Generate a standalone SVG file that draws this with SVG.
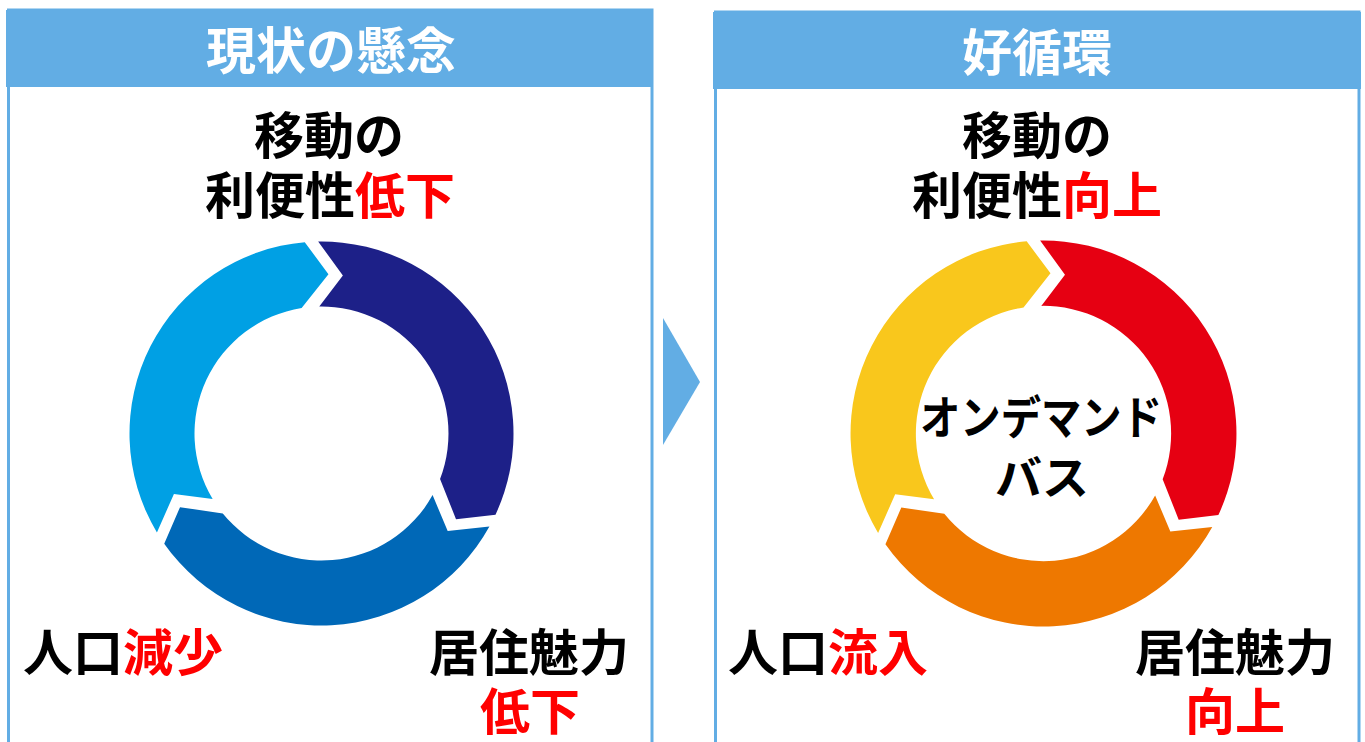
<svg xmlns="http://www.w3.org/2000/svg" width="1365" height="742" viewBox="0 0 1365 742">
<style>
.panel{fill:#ffffff;stroke:#62ADE4;stroke-width:3}
.hdr{fill:#62ADE4}
.t{font-family:"Noto Sans CJK JP","Noto Sans",sans-serif;font-weight:700;font-size:50px;text-anchor:middle;fill:#000}
.w{fill:#ffffff}
.r{fill:#FF0000}
</style>
<defs>
<path id="seg" d="M -3.35 -191.97 A 192 192 0 0 1 174.01 81.14 L 134.52 85.7 L 118.56 45.51 A 127 127 0 0 0 -2.22 -126.98 L 21.37 -158.06 Z"/>
</defs>
<rect width="1365" height="742" fill="#ffffff"/>

<g id="panel-left">
<rect class="panel" x="8.5" y="10" width="643.5" height="760"/>
<rect class="hdr" x="6" y="10" width="647" height="77"/>
<text class="t w" x="331" y="69">現状の懸念</text>
</g>

<g id="panel-right">
<rect class="panel" x="715.5" y="12" width="643.5" height="760"/>
<rect class="hdr" x="713" y="12" width="648" height="77"/>
<text class="t w" x="1037" y="71">好循環</text>
</g>

<g id="connectors">
<polygon points="663,318 700,382 663,445" fill="#62ADE4"/>
</g>

<g id="cycle-left">
<use href="#seg" transform="translate(321.5,433.5)" fill="#1D2088"/>
<use href="#seg" transform="translate(321.5,433.5) rotate(120)" fill="#0068B7"/>
<use href="#seg" transform="translate(321.5,433.5) rotate(240)" fill="#00A0E4"/>
</g>

<g id="cycle-right">
<use href="#seg" transform="translate(1043.5,433.5) scale(1.005)" fill="#E60012"/>
<use href="#seg" transform="translate(1043.5,433.5) scale(1.005) rotate(120)" fill="#EE7800"/>
<use href="#seg" transform="translate(1043.5,433.5) scale(1.005) rotate(240)" fill="#F9C71C"/>
</g>

<g id="node-left-top">
<text class="t" x="329" y="154">移動の</text>
<text class="t" x="330" y="214">利便性<tspan class="r">低下</tspan></text>
</g>
<g id="node-left-bl">
<text class="t" x="123" y="671">人口<tspan class="r">減少</tspan></text>
</g>
<g id="node-left-br">
<text class="t" x="529" y="671">居住魅力</text>
<text class="t r" x="530" y="730">低下</text>
</g>

<g id="node-right-top">
<text class="t" x="1037" y="154">移動の</text>
<text class="t" x="1037" y="214">利便性<tspan class="r">向上</tspan></text>
</g>
<g id="node-right-center">
<text class="t" x="1041" y="434" font-size="46" textLength="242" lengthAdjust="spacingAndGlyphs" style="font-size:46px">オンデマンド</text>
<text class="t" x="1042" y="494" style="font-size:46px" textLength="94" lengthAdjust="spacingAndGlyphs">バス</text>
</g>
<g id="node-right-bl">
<text class="t" x="828" y="671">人口<tspan class="r">流入</tspan></text>
</g>
<g id="node-right-br">
<text class="t" x="1235" y="671">居住魅力</text>
<text class="t r" x="1235" y="730">向上</text>
</g>
</svg>
